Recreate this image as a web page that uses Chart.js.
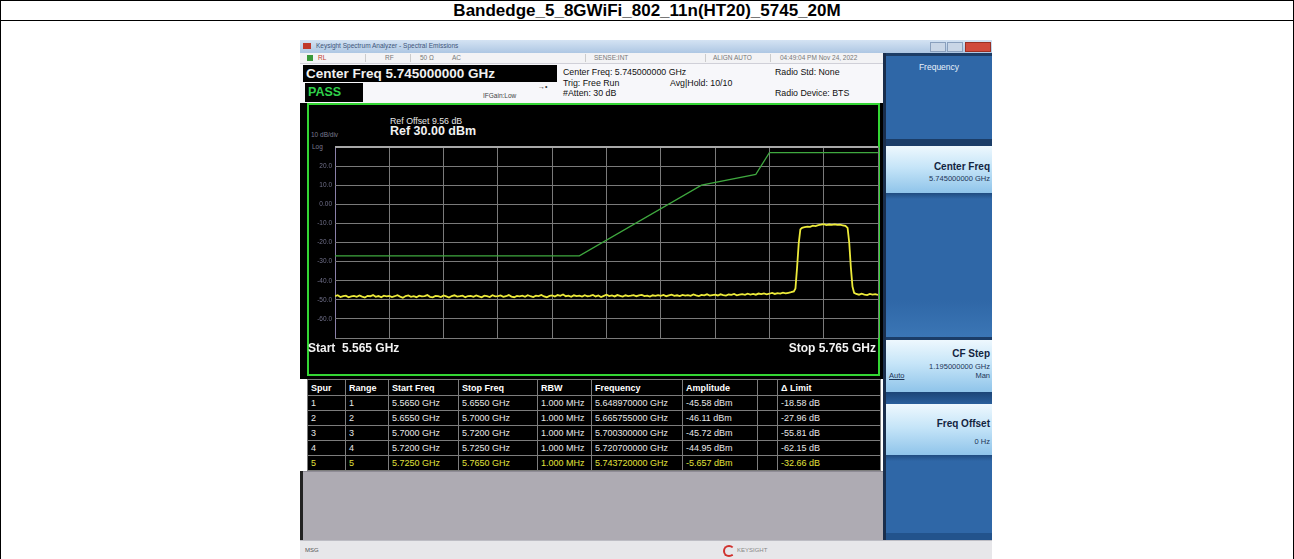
<!DOCTYPE html>
<html><head><meta charset="utf-8">
<script src="https://cdn.jsdelivr.net/npm/chart.js@4.4.0/dist/chart.umd.min.js"></script>
<style>
html,body{margin:0;padding:0;background:#fff;}
body{width:1294px;height:559px;position:relative;overflow:hidden;font-family:"Liberation Sans",Arial,sans-serif;}
.a{position:absolute;white-space:nowrap;}
#tbl{position:absolute;left:307px;top:379px;border-collapse:collapse;table-layout:fixed;background:#000;}
#tbl td{border:1px solid #7c7c7c;padding:0 0 0 3px;height:14px;font-size:9px;color:#e8e8e8;overflow:hidden;white-space:nowrap;line-height:14px;}
#tbl tr.h td{height:15px;font-weight:bold;font-size:9px;color:#fff;}
#tbl tr.y td{color:#e2e23c;}
.btn{position:absolute;left:886px;width:106px;background:linear-gradient(#eef8fe,#c6e5f8 45%,#8fc4ea);}
</style></head><body>
<!-- outer frame -->
<div class="a" style="left:0;top:0;width:1292px;height:560px;border:1px solid #000;border-bottom:none;"></div>
<div class="a" style="left:0;top:20px;width:1294px;height:1px;background:#000;"></div>
<div class="a" style="left:0;top:1px;width:1294px;height:19px;line-height:19px;text-align:center;font-weight:bold;font-size:17px;color:#000;">Bandedge_5_8GWiFi_802_11n(HT20)_5745_20M</div>

<!-- window title bar -->
<div class="a" style="left:300px;top:40px;width:692px;height:13px;background:linear-gradient(#d4e3f3,#aec7e3);"></div>
<div class="a" style="left:303px;top:43px;width:8px;height:6px;background:#c0392b;"></div>
<div class="a" style="left:316px;top:42px;font-size:6.5px;color:#40557a;">Keysight Spectrum Analyzer - Spectral Emissions</div>
<div class="a" style="left:930px;top:42px;width:14px;height:8px;background:#c9d6e6;border:1px solid #8aa0bd;"></div>
<div class="a" style="left:947px;top:42px;width:14px;height:8px;background:#c9d6e6;border:1px solid #8aa0bd;"></div>
<div class="a" style="left:965px;top:42px;width:24px;height:8px;background:#d04a3c;border:1px solid #9a3024;"></div>

<!-- status row -->
<div class="a" style="left:300px;top:53px;width:583px;height:10px;background:#f3f3f5;border-bottom:1px solid #d0d0d8;"></div>
<div class="a" style="left:307px;top:55px;width:6px;height:6px;background:#3a9a3a;"></div>
<div class="a" style="left:318px;top:54px;font-size:6.5px;color:#c0392b;">RL</div>
<div class="a" style="left:385px;top:54px;font-size:6.5px;color:#777;">RF</div>
<div class="a" style="left:420px;top:54px;font-size:6.5px;color:#777;">50 Ω</div>
<div class="a" style="left:452px;top:54px;font-size:6.5px;color:#777;">AC</div>
<div class="a" style="left:594px;top:54px;font-size:6.5px;color:#777;">SENSE:INT</div>
<div class="a" style="left:713px;top:54px;font-size:6.5px;color:#777;">ALIGN AUTO</div>
<div class="a" style="left:780px;top:54px;font-size:6.5px;color:#777;">04:49:04 PM Nov 24, 2022</div>
<div class="a" style="left:365px;top:54px;width:1px;height:8px;background:#ccc;"></div>
<div class="a" style="left:410px;top:54px;width:1px;height:8px;background:#ccc;"></div>
<div class="a" style="left:585px;top:54px;width:1px;height:8px;background:#ccc;"></div>
<div class="a" style="left:705px;top:54px;width:1px;height:8px;background:#ccc;"></div>
<div class="a" style="left:770px;top:54px;width:1px;height:8px;background:#ccc;"></div>

<!-- header -->
<div class="a" style="left:300px;top:64px;width:583px;height:39px;background:#f7f7fa;"></div>
<div class="a" style="left:303px;top:65px;width:254px;height:17px;background:#000;"></div>
<div class="a" style="left:306px;top:66px;line-height:15px;font-size:13.5px;font-weight:bold;color:#f0f0f0;">Center Freq 5.745000000 GHz</div>
<div class="a" style="left:305px;top:83px;width:58px;height:19px;background:#000;"></div>
<div class="a" style="left:308px;top:85px;line-height:15px;font-size:12.5px;font-weight:bold;color:#2fd04a;">PASS</div>
<div class="a" style="left:538px;top:83px;font-size:7px;color:#333;">→•</div>
<div class="a" style="left:483px;top:92px;font-size:6.5px;color:#444;">IFGain:Low</div>
<div class="a" style="left:563px;top:67px;font-size:8.8px;color:#111;line-height:10.5px;">Center Freq: 5.745000000 GHz<br>Trig: Free Run<br>#Atten: 30 dB</div>
<div class="a" style="left:670px;top:77.5px;font-size:8.8px;color:#111;line-height:10.5px;">Avg|Hold: 10/10</div>
<div class="a" style="left:775px;top:67px;font-size:8.8px;color:#111;line-height:10.5px;">Radio Std: None</div>
<div class="a" style="left:775px;top:88px;font-size:8.8px;color:#111;line-height:10.5px;">Radio Device: BTS</div>

<!-- graph region -->
<div class="a" style="left:300px;top:103px;width:583px;height:276px;background:#000;"></div>
<div class="a" style="left:307px;top:103px;width:569px;height:269px;border:2px solid #34d634;"></div>
<div class="a" style="left:390px;top:116px;font-size:8.8px;color:#e6e6e6;">Ref Offset 9.56 dB</div>
<div class="a" style="left:390px;top:124px;font-size:12.5px;font-weight:bold;color:#f2f2f2;">Ref 30.00 dBm</div>
<div class="a" style="left:311px;top:131px;font-size:6.5px;color:#7a7a90;">10 dB/div</div>
<div class="a" style="left:312px;top:143px;font-size:6.5px;color:#7a7a90;">Log</div>
<div class="a" style="left:308px;top:140px;width:572px;height:205px;"><canvas id="c" width="572" height="205"></canvas></div>
<div class="a" style="left:308px;top:341px;font-size:12px;font-weight:bold;color:#f2f2f2;">Start&nbsp; 5.565 GHz</div>
<div class="a" style="left:700px;top:341px;width:176px;text-align:right;font-size:12px;font-weight:bold;color:#f2f2f2;">Stop 5.765 GHz</div>

<!-- table -->
<table id="tbl"><colgroup id="cols"></colgroup><tbody id="tb"></tbody></table>
<div class="a" style="left:303px;top:471px;width:580px;height:69px;background:#aeabb3;border-top:1px solid #8f8c96;"></div>
<div class="a" style="left:300px;top:471px;width:3px;height:69px;background:#222;"></div>

<!-- right panel -->
<div class="a" style="left:883px;top:53px;width:3px;height:487px;background:#1a2e4c;"></div>
<div class="a" style="left:886px;top:53px;width:106px;height:487px;background:#2f67a7;"></div>
<div class="a" style="left:886px;top:53px;width:106px;height:3px;background:#1d3d66;"></div>
<div class="a" style="left:886px;top:62px;width:106px;text-align:center;font-size:8.5px;color:#e8f0fa;">Frequency</div>
<div class="a" style="left:886px;top:139px;width:106px;height:7px;background:#1b3d68;"></div>
<div class="btn" style="top:146px;height:47px;"></div>
<div class="a" style="left:886px;top:193px;width:106px;height:6px;background:linear-gradient(#1f4b80,#2f67a7);"></div>
<div class="a" style="left:886px;top:161px;width:104px;text-align:right;font-weight:bold;font-size:10px;color:#13243f;">Center Freq</div>
<div class="a" style="left:886px;top:174px;width:104px;text-align:right;font-size:7.5px;color:#1d3557;">5.745000000 GHz</div>
<div class="a" style="left:886px;top:300px;width:106px;height:37px;background:linear-gradient(#2f67a7,#3b76b5);"></div>
<div class="a" style="left:886px;top:337px;width:106px;height:3px;background:#1b3d68;"></div>
<div class="btn" style="top:340px;height:52px;"></div>
<div class="a" style="left:886px;top:348px;width:104px;text-align:right;font-weight:bold;font-size:10px;color:#13243f;">CF Step</div>
<div class="a" style="left:886px;top:362px;width:104px;text-align:right;font-size:7.5px;color:#1d3557;">1.195000000 GHz</div>
<div class="a" style="left:889px;top:371px;font-size:7.5px;color:#1d3557;text-decoration:underline;">Auto</div>
<div class="a" style="left:886px;top:371px;width:104px;text-align:right;font-size:7.5px;color:#1d3557;">Man</div>
<div class="a" style="left:886px;top:392px;width:106px;height:12px;background:linear-gradient(#1c4577,#2a5f9c);"></div>
<div class="btn" style="top:404px;height:51px;"></div>
<div class="a" style="left:886px;top:418px;width:104px;text-align:right;font-weight:bold;font-size:10px;color:#13243f;">Freq Offset</div>
<div class="a" style="left:886px;top:437px;width:104px;text-align:right;font-size:7.5px;color:#1d3557;">0 Hz</div>
<div class="a" style="left:886px;top:455px;width:106px;height:6px;background:linear-gradient(#1f4b80,#2f67a7);"></div>
<div class="a" style="left:886px;top:533px;width:106px;height:7px;background:#22538c;"></div>

<!-- bottom status bar -->
<div class="a" style="left:300px;top:540px;width:692px;height:19px;background:#e7e7ea;border-top:1px solid #bdbdc4;"></div>
<div class="a" style="left:305px;top:547px;font-size:6px;color:#555;">MSG</div>
<div class="a" style="left:723px;top:545px;width:8px;height:8px;border-radius:50%;border:2px solid #d0312d;border-right-color:transparent;"></div>
<div class="a" style="left:737px;top:547px;font-size:6px;color:#888;">KEYSIGHT</div>

<script>
// ---- data ----
const tableHeaders = ['Spur','Range','Start Freq','Stop Freq','RBW','Frequency','Amplitude','','\u0394 Limit'];
const spurNo = ['1','2','3','4','5'];
const rangeNo = ['1','2','3','4','5'];
const startFreq = ['5.5650 GHz','5.6550 GHz','5.7000 GHz','5.7200 GHz','5.7250 GHz'];
const stopFreq = ['5.6550 GHz','5.7000 GHz','5.7200 GHz','5.7250 GHz','5.7650 GHz'];
const rbw = ['1.000 MHz','1.000 MHz','1.000 MHz','1.000 MHz','1.000 MHz'];
const peakFreq = ['5.648970000 GHz','5.665755000 GHz','5.700300000 GHz','5.720700000 GHz','5.743720000 GHz'];
const amplitude = ['-45.58 dBm','-46.11 dBm','-45.72 dBm','-44.95 dBm','-5.657 dBm'];
const deltaLimit = ['-18.58 dB','-27.96 dB','-55.81 dB','-62.15 dB','-32.66 dB'];

const xGridMHz = [5565,5585,5605,5625,5645,5665,5685,5705,5725,5745,5765];
const yGridDbm = [-70,-60,-50,-40,-30,-20,-10,0,10,20,30];
const yTickLabels = ['','-60.0','-50.0','-40.0','-30.0','-20.0','-10.0','0.00','10.0','20.0',''];

const limitFreqMHz = [5565,5655,5700,5720,5725,5765];
const limitDbm = [-27,-27,10,15.6,27,27];

const traceFreqMHz = [
5565,5566,5567,5568,5569,5570,5571,5572,5573,5574,
5575,5576,5577,5578,5579,5580,5581,5582,5583,5584,
5585,5586,5587,5588,5589,5590,5591,5592,5593,5594,
5595,5596,5597,5598,5599,5600,5601,5602,5603,5604,
5605,5606,5607,5608,5609,5610,5611,5612,5613,5614,
5615,5616,5617,5618,5619,5620,5621,5622,5623,5624,
5625,5626,5627,5628,5629,5630,5631,5632,5633,5634,
5635,5636,5637,5638,5639,5640,5641,5642,5643,5644,
5645,5646,5647,5648,5649,5650,5651,5652,5653,5654,
5655,5656,5657,5658,5659,5660,5661,5662,5663,5664,
5665,5666,5667,5668,5669,5670,5671,5672,5673,5674,
5675,5676,5677,5678,5679,5680,5681,5682,5683,5684,
5685,5686,5687,5688,5689,5690,5691,5692,5693,5694,
5695,5696,5697,5698,5699,5700,5701,5702,5703,5704,
5705,5706,5707,5708,5709,5710,5711,5712,5713,5714,
5715,5716,5717,5718,5719,5720,5721,5722,5723,5724,
5725,5726,5727,5728,5729,5730,5731,5732,5733,5734,
5734.6,5735.2,5735.8,5736.4,5737,5738,5739,5740,5741,5742,
5743,5744,5745,5746,5747,5748,5749,5750,5751,5752,
5753,5753.8,5754.4,5755,5755.6,5756.2,5757,5758,5759,5760,
5761,5762,5763,5764,5765];
const traceDbm = [
-48.1,-47.6,-48.5,-48.0,-47.8,-48.7,-48.2,-47.9,-48.4,-47.7,
-48.3,-48.8,-47.9,-48.1,-47.5,-48.4,-48.0,-48.6,-47.8,-48.2,
-47.9,-48.5,-48.1,-47.6,-48.3,-48.9,-48.0,-47.7,-48.4,-48.1,
-48.6,-47.8,-48.2,-48.0,-47.5,-48.4,-48.7,-47.9,-48.1,-48.5,
-47.7,-48.2,-48.8,-48.0,-47.6,-48.3,-48.1,-47.8,-48.6,-48.0,
-47.9,-48.4,-47.7,-48.2,-48.7,-47.8,-48.1,-48.5,-47.6,-48.2,
-48.0,-47.7,-48.4,-48.1,-47.5,-48.3,-48.6,-47.9,-48.2,-47.8,
-48.4,-47.6,-48.1,-48.5,-47.8,-48.0,-47.4,-48.2,-48.6,-47.9,
-47.7,-48.3,-47.5,-47.9,-47.2,-48.1,-47.8,-48.4,-47.6,-48.0,
-47.8,-48.3,-47.6,-48.1,-47.9,-47.4,-48.2,-47.7,-48.5,-47.9,
-47.3,-48.0,-47.7,-48.2,-47.5,-47.9,-48.3,-47.6,-48.0,-47.8,
-47.5,-48.1,-47.7,-47.4,-48.0,-47.8,-48.3,-47.6,-47.9,-47.5,
-47.9,-47.4,-48.1,-47.7,-47.3,-47.9,-47.6,-48.0,-47.4,-47.8,
-47.5,-47.9,-47.2,-47.7,-48.0,-47.4,-47.6,-47.1,-47.8,-47.5,
-47.3,-47.7,-47.1,-47.5,-47.8,-47.2,-47.4,-46.9,-47.6,-47.3,
-47.0,-47.4,-46.8,-47.2,-46.9,-47.3,-46.7,-47.0,-46.6,-47.1,
-46.8,-46.4,-46.9,-46.5,-46.7,-46.2,-46.6,-46.3,-46.0,-45.6,
-44.0,-33.0,-20.5,-13.2,-12.3,-12.0,-11.7,-11.8,-11.2,-11.4,
-10.9,-10.7,-10.4,-10.9,-10.6,-10.8,-10.5,-10.8,-10.7,-11.0,
-11.3,-12.4,-20.0,-33.0,-43.0,-46.3,-46.9,-47.3,-46.8,-47.2,
-47.5,-46.9,-47.3,-47.0,-47.4];

// ---- table ----
const colWidths = [38,43,70,79,54,91,75,20,103];
const cg = document.getElementById('cols');
colWidths.forEach(w=>{const c=document.createElement('col');c.style.width=w+'px';cg.appendChild(c);});
document.getElementById('tbl').style.width = colWidths.reduce((a,b)=>a+b,0)+'px';
const tb = document.getElementById('tb');
function addRow(cells, cls){const tr=document.createElement('tr');if(cls)tr.className=cls;cells.forEach(t=>{const td=document.createElement('td');td.textContent=t;tr.appendChild(td);});tb.appendChild(tr);}
addRow(tableHeaders,'h');
for(let i=0;i<spurNo.length;i++){
  addRow([spurNo[i],rangeNo[i],startFreq[i],stopFreq[i],rbw[i],peakFreq[i],amplitude[i],'',deltaLimit[i]], i===4?'y':'');
}

// ---- chart ----
const labelFor = {};
yGridDbm.forEach((v,i)=>labelFor[v]=yTickLabels[i]);
const ctx = document.getElementById('c').getContext('2d');
new Chart(ctx,{
  type:'line',
  data:{datasets:[
    {data:traceFreqMHz.map((f,i)=>({x:f,y:traceDbm[i]})),borderColor:'#ecea3a',borderWidth:1.8,pointRadius:0,tension:0},
    {data:limitFreqMHz.map((f,i)=>({x:f,y:limitDbm[i]})),borderColor:'#3fa83f',borderWidth:1.2,pointRadius:0,tension:0}
  ]},
  options:{
    responsive:false,animation:false,
    layout:{padding:{top:5,bottom:6,right:2,left:0}},
    plugins:{legend:{display:false},tooltip:{enabled:false}},
    scales:{
      x:{type:'linear',min:5565,max:5765,
        afterBuildTicks:s=>{s.ticks=xGridMHz.map(v=>({value:v}));},
        afterFit:s=>{s.height=0;},
        ticks:{display:false},
        border:{display:false},
        grid:{drawTicks:false,lineWidth:1,color:c=>c.index===0?'#8a80a8':'#7a7a7a'}},
      y:{type:'linear',min:-70,max:30,
        afterBuildTicks:s=>{s.ticks=yGridDbm.map(v=>({value:v}));},
        afterFit:s=>{s.width=27;},
        ticks:{callback:v=>labelFor[v],color:'#70708a',font:{size:6.5,family:'Liberation Sans'},padding:3},
        border:{display:false},
        grid:{drawTicks:false,lineWidth:c=>c.tick&&c.tick.value===30?2:1,color:c=>c.tick&&c.tick.value===30?'#a8a8a8':'#7a7a7a'}}
    }
  }
});
</script>
</body></html>
